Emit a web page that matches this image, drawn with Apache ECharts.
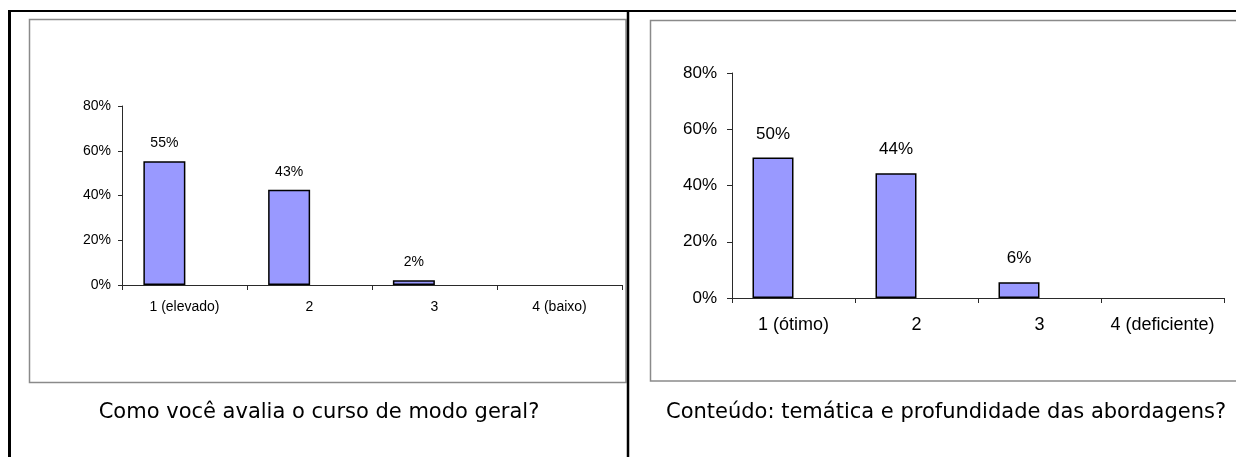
<!DOCTYPE html>
<html>
<head>
<meta charset="utf-8">
<script src="https://cdn.jsdelivr.net/npm/echarts@6/dist/echarts.min.js"></script>
<style>
  html, body { margin: 0; padding: 0; background: #ffffff; }
  #chart { width: 1236px; height: 457px; }
</style>
</head>
<body>
<div id="chart"></div>
<script>
// ---- data ----
const leftCategories = ['1 (elevado)', '2', '3', '4 (baixo)'];
const leftValues = [55.3, 42.6, 2.1, 0];
const rightCategories = ['1 (ótimo)', '2', '3', '4 (deficiente)'];
const rightValues = [50, 44.4, 5.6, 0];
const yMin = 0;
const yMax = 80;
const yInterval = 20;
const leftCaption = 'Como você avalia o curso de modo geral?';
const rightCaption = 'Conteúdo: temática e profundidade das abordagens?';

// ---- styling ----
const barFill = '#9999FF';
const axisColor = '#2a2a2a';
const labelFont = 'Liberation Sans, Arial, sans-serif';

function barData(vals) {
  return vals.map(v => v === 0
    ? { value: v, itemStyle: { borderWidth: 0 }, label: { show: false } }
    : v);
}

function yAxisDef(gridIndex, fontSize, margin, tickLen) {
  return {
    type: 'value', gridIndex: gridIndex, min: yMin, max: yMax, interval: yInterval,
    axisLine: { show: true, lineStyle: { color: axisColor, width: 1 } },
    axisTick: { show: true, length: tickLen, lineStyle: { color: axisColor } },
    splitLine: { show: false },
    axisLabel: { formatter: '{value}%', color: '#000', fontFamily: labelFont, fontSize: fontSize, margin: margin }
  };
}
function yAxisHidden(gridIndex) {
  return { type: 'value', gridIndex: gridIndex, min: yMin, max: yMax, interval: yInterval, show: false };
}

const chart = echarts.init(document.getElementById('chart'), null, { renderer: 'canvas' });

const option = {
  animation: false,
  backgroundColor: '#ffffff',
  title: [
    { text: leftCaption, left: 314, top: 397, textAlign: 'center',
      textStyle: { fontFamily: 'DejaVu Sans', fontSize: 21, fontWeight: 'normal', color: '#000' } },
    { text: rightCaption, left: 941, top: 397, textAlign: 'center',
      textStyle: { fontFamily: 'DejaVu Sans', fontSize: 21, fontWeight: 'normal', color: '#000' } }
  ],
  grid: [
    { left: 122, top: 106, width: 500, height: 179 },   // left: axes
    { left: 102, top: 106, width: 499, height: 179 },   // left: bars
    { left: 732, top: 73, width: 492, height: 225 },    // right: axes
    { left: 711.5, top: 73, width: 492, height: 225 }   // right: bars
  ],
  xAxis: [
    { type: 'category', gridIndex: 0, data: leftCategories,
      axisLine: { lineStyle: { color: axisColor, width: 1 } },
      axisTick: { show: true, length: 5, alignWithLabel: false, lineStyle: { color: axisColor } },
      axisLabel: { color: '#000', fontFamily: labelFont, fontSize: 14, margin: 15, interval: 0 } },
    { type: 'category', gridIndex: 1, data: leftCategories, show: false },
    { type: 'category', gridIndex: 2, data: rightCategories,
      axisLine: { lineStyle: { color: axisColor, width: 1 } },
      axisTick: { show: true, length: 5, alignWithLabel: false, lineStyle: { color: axisColor } },
      axisLabel: { color: '#000', fontFamily: labelFont, fontSize: 18, margin: 18, interval: 0 } },
    { type: 'category', gridIndex: 3, data: rightCategories, show: false }
  ],
  yAxis: [
    yAxisDef(0, 14, 11, 4),
    yAxisHidden(1),
    yAxisDef(2, 17, 15, 5),
    yAxisHidden(3)
  ],
  series: [
    { type: 'bar', xAxisIndex: 1, yAxisIndex: 1, data: barData(leftValues), barWidth: 42,
      itemStyle: { color: barFill, borderColor: '#000', borderWidth: 1.5 },
      label: { show: true, position: 'top', distance: 11, color: '#000', fontFamily: labelFont, fontSize: 14,
        formatter: p => Math.round(p.value) + '%' } },
    { type: 'bar', xAxisIndex: 3, yAxisIndex: 3, data: barData(rightValues), barWidth: 41,
      itemStyle: { color: barFill, borderColor: '#000', borderWidth: 1.5 },
      label: { show: true, position: 'top', distance: 15, color: '#000', fontFamily: labelFont, fontSize: 17,
        formatter: p => Math.round(p.value) + '%' } }
  ],
  graphic: [
    // chart area frames
    { type: 'rect', shape: { x: 29.5, y: 19.5, width: 596.5, height: 363 },
      style: { fill: 'none', stroke: '#8a8a8a', lineWidth: 1.5 }, silent: true },
    { type: 'rect', shape: { x: 650.5, y: 20.5, width: 600, height: 360.5 },
      style: { fill: 'none', stroke: '#8a8a8a', lineWidth: 1.5 }, silent: true },
    // table borders
    { type: 'line', shape: { x1: 8, y1: 11, x2: 1236, y2: 11 },
      style: { stroke: '#000', lineWidth: 2 }, silent: true },
    { type: 'line', shape: { x1: 9.5, y1: 10, x2: 9.5, y2: 457 },
      style: { stroke: '#000', lineWidth: 3 }, silent: true },
    { type: 'line', shape: { x1: 628, y1: 10, x2: 628, y2: 457 },
      style: { stroke: '#000', lineWidth: 2.5 }, silent: true }
  ]
};

chart.setOption(option);
</script>
</body>
</html>
